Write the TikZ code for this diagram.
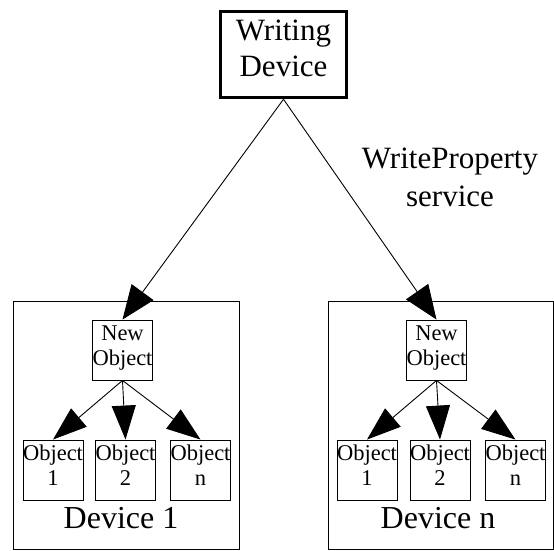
\documentclass[tikz,border=0pt]{standalone}
\usepackage{fontspec}
\setmainfont{Liberation Serif}
\usetikzlibrary{arrows.meta}

\tikzset{
  bigbox/.style={draw,line width=3.5pt,minimum width=126pt,minimum height=86pt,inner sep=0pt,align=center,text depth=13pt,font=\fontsize{31}{36}\selectfont},
  devbox/.style={draw,line width=1pt,minimum width=226pt,minimum height=248pt,inner sep=0pt},
  objbox/.style={draw,line width=0.9pt,minimum width=59pt,minimum height=60pt,inner sep=0pt,align=center,text depth=9pt,font=\fontsize{22.5}{25}\selectfont},
  bigtext/.style={align=center,font=\fontsize{31}{38}\selectfont},
  tip/.style={line width=0.9pt,-{Triangle[length=34pt,width=24pt]}},
  bigtip/.style={tip,-{Triangle[length=34pt,width=27pt]}}
}

\begin{document}
\begin{tikzpicture}[x=1pt,y=-1pt]
\useasboundingbox (0,0) rectangle (554,550);

% the device that writes
\node[bigbox] (writer) at (283.5,54.5) {Writing\\Device};
\node[bigtext] (service) at (450,177) {WriteProperty\\service};

% the two receiving devices
\node[devbox] (dev1) at (126,425) {};
\node[devbox,minimum width=225pt] (devn) at (440.5,425) {};
\node[bigtext,font=\fontsize{32}{38}\selectfont] (name1) at (121,518) {Device 1};
\node[bigtext,font=\fontsize{32}{38}\selectfont] (namen) at (438,518) {Device n};

% objects inside device 1
\node[objbox] (new1) at (122.5,350) {New\\Object};
\node[objbox] (obj11) at (53,470) {Object\\1};
\node[objbox] (obj12) at (125.5,470) {Object\\2};
\node[objbox] (obj1n) at (200.5,470) {Object\\n};

% objects inside device n
\node[objbox] (newn) at (436.5,350) {New\\Object};
\node[objbox] (objn1) at (367,470) {Object\\1};
\node[objbox] (objn2) at (440,470) {Object\\2};
\node[objbox] (objnn) at (515.5,470) {Object\\n};

\draw[bigtip] (writer.south) -- (new1.north);
\draw[bigtip] (writer.south) -- (newn.north);

\draw[tip] (new1.south) -- (obj11.north);
\draw[tip] (new1.south) -- (obj12.north);
\draw[tip] (new1.south) -- (obj1n.north);

\draw[tip] (newn.south) -- (objn1.north);
\draw[tip] (newn.south) -- (objn2.north);
\draw[tip] (newn.south) -- (objnn.north);

\end{tikzpicture}
\end{document}
